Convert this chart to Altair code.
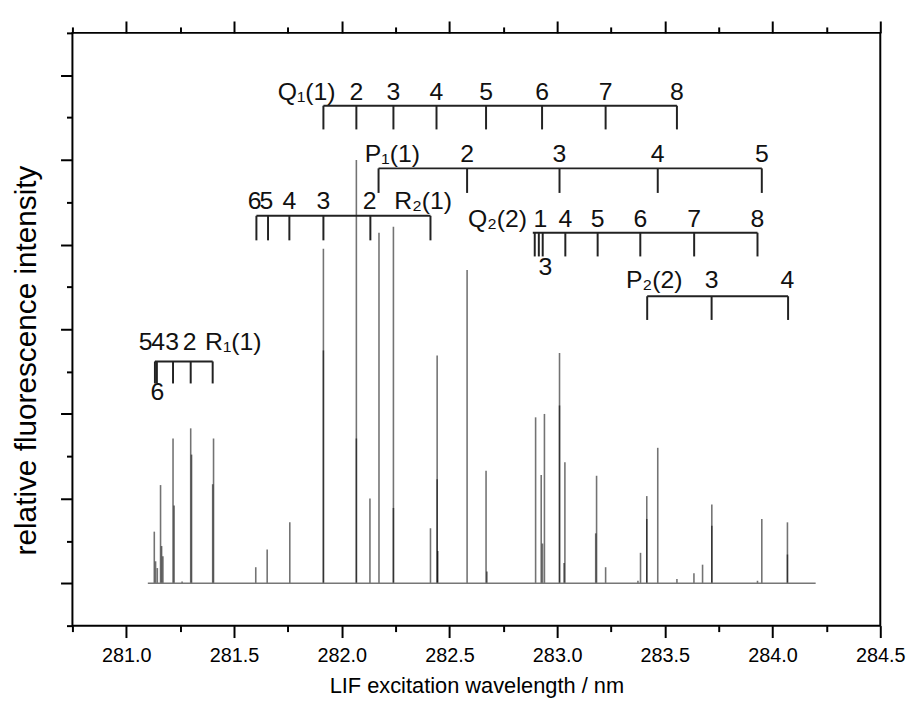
import altair as alt
import pandas as pd

# ---------------- spectrum sticks (wavelength / nm, relative intensity) -------------
stick_wl = [281.130, 281.136, 281.144, 281.159, 281.164, 281.170, 281.217, 281.222,
            281.259, 281.299, 281.303, 281.401, 281.405, 281.601, 281.654, 281.759,
            281.915, 281.915, 282.068, 282.068, 282.131, 282.173, 282.240, 282.240,
            282.412, 282.443, 282.443, 282.446, 282.582, 282.670, 282.674, 282.900,
            282.926, 282.932, 282.941, 283.011, 283.011, 283.032, 283.036, 283.179,
            283.183, 283.225, 283.375, 283.387, 283.416, 283.416, 283.467, 283.556,
            283.635, 283.675, 283.718, 283.718, 283.930, 283.950, 284.069, 284.069]
stick_h = [0.61, 0.26, 0.18, 1.16, 0.44, 0.32, 1.71, 0.92,
           0.02, 1.83, 1.52, 1.17, 1.71, 0.19, 0.40, 0.72,
           3.95, 2.75, 5.00, 1.71, 1.00, 4.14, 4.21, 0.89,
           0.65, 2.69, 1.23, 0.38, 3.70, 1.33, 0.14, 1.96,
           1.28, 0.47, 2.00, 2.72, 2.10, 0.24, 1.43, 0.59,
           1.27, 0.19, 0.03, 0.36, 1.03, 0.76, 1.60, 0.05,
           0.12, 0.22, 0.93, 0.68, 0.03, 0.76, 0.72, 0.34]
baseline_range = [281.10, 284.20]

# ---------------- rotational assignment ladders ----------------------------------
Q1_ticks = [281.915, 282.068, 282.240, 282.440, 282.670, 282.930, 283.225, 283.556]
Q1_labels = ["Q\u2081(1)", "2", "3", "4", "5", "6", "7", "8"]
Q1_label_x = [281.837, 282.068, 282.240, 282.440, 282.670, 282.930, 283.225, 283.556]

P1_ticks = [282.171, 282.582, 283.011, 283.467, 283.950]
P1_labels = ["P\u2081(1)", "2", "3", "4", "5"]
P1_label_x = [282.235, 282.582, 283.011, 283.467, 283.950]

R2_ticks = [281.604, 281.658, 281.757, 281.915, 282.133, 282.412]
R2_labels = ["6", "5", "4", "3", "2", "R\u2082(1)"]
R2_label_x = [281.596, 281.650, 281.757, 281.915, 282.130, 282.378]

Q2_ticks = [282.896, 282.915, 282.933, 283.038, 283.188, 283.386, 283.636, 283.930]
Q2_labels = ["Q\u2082(2)", "1", "4", "5", "6", "7", "8"]
Q2_label_x = [282.723, 282.922, 283.038, 283.188, 283.386, 283.636, 283.930]
Q2_below_labels = ["3"]
Q2_below_x = [282.945]

P2_ticks = [283.418, 283.717, 284.072]
P2_labels = ["P\u2082(2)", "3", "4"]
P2_label_x = [283.451, 283.717, 284.069]

R1_ticks = [281.133, 281.142, 281.217, 281.299, 281.401]
R1_labels = ["5", "4", "3", "2", "R\u2081(1)"]
R1_label_x = [281.090, 281.148, 281.213, 281.294, 281.497]
R1_below_labels = ["6"]
R1_below_x = [281.144]

# ladder vertical levels (data units): bar line, tick bottom, label baseline, lower-label baseline
levels = {
    "Q1": (5.64, 5.36, 5.71, None),
    "P1": (4.90, 4.61, 4.97, None),
    "R2": (4.34, 4.05, 4.42, None),
    "Q2": (4.14, 3.86, 4.21, 3.64),
    "P2": (3.39, 3.11, 3.49, None),
    "R1": (2.62, 2.36, 2.76, 2.16),
}
ladders = {
    "Q1": (Q1_ticks, Q1_labels, Q1_label_x, [], []),
    "P1": (P1_ticks, P1_labels, P1_label_x, [], []),
    "R2": (R2_ticks, R2_labels, R2_label_x, [], []),
    "Q2": (Q2_ticks, Q2_labels, Q2_label_x, Q2_below_labels, Q2_below_x),
    "P2": (P2_ticks, P2_labels, P2_label_x, [], []),
    "R1": (R1_ticks, R1_labels, R1_label_x, R1_below_labels, R1_below_x),
}

hl_rows, tk_rows, lb_rows = [], [], []
for name, (ticks, labs, labx, blabs, blabx) in ladders.items():
    yl, yb, ylab, ybelow = levels[name]
    start = min(ticks) - (0.009 if name == "Q2" else 0.0)
    hl_rows.append({"x": start, "x2": max(ticks), "y": yl})
    for t in ticks:
        tk_rows.append({"x": t, "y": yl, "y2": yb})
    for s, xx in zip(labs, labx):
        lb_rows.append({"x": xx, "y": ylab, "t": s})
    for s, xx in zip(blabs, blabx):
        lb_rows.append({"x": xx, "y": ybelow, "t": s})

sticks = pd.DataFrame({"x": stick_wl, "y": [0.0] * len(stick_wl), "y2": stick_h})
base = pd.DataFrame({"x": [baseline_range[0]], "x2": [baseline_range[1]], "y": [0.0]})
hl = pd.DataFrame(hl_rows)
tk = pd.DataFrame(tk_rows)
lb = pd.DataFrame(lb_rows)

FONT = "Liberation Sans"
xs = alt.Scale(domain=[280.75, 284.5], nice=False, zero=False)
ys = alt.Scale(domain=[-0.5, 6.5], nice=False, zero=False)

major_x = [281.0, 281.5, 282.0, 282.5, 283.0, 283.5, 284.0, 284.5]
minor_x = [280.75, 281.25, 281.75, 282.25, 282.75, 283.25, 283.75, 284.25]
major_y = [0, 1, 2, 3, 4, 5, 6]
minor_y = [-0.5, 0.5, 1.5, 2.5, 3.5, 4.5, 5.5, 6.5]

tick_common = dict(domain=False, grid=False, tickColor="black", tickWidth=2)

ax_bottom_major = alt.Axis(orient="bottom", values=major_x, tickSize=12, format=".1f",
                           labelFont=FONT, labelFontSize=20, labelColor="black",
                           labelPadding=8, labelFlush=False, labelOverlap=False,
                           title="LIF excitation wavelength / nm", titleFont=FONT,
                           titleFontSize=22, titleFontWeight="normal", titleColor="black",
                           titlePadding=10, **tick_common)
ax_bottom_minor = alt.Axis(orient="bottom", values=minor_x, tickSize=6, labels=False,
                           title=None, **tick_common)
ax_top_major = alt.Axis(orient="top", values=major_x, tickSize=12, labels=False,
                        title=None, **tick_common)
ax_top_minor = alt.Axis(orient="top", values=minor_x, tickSize=6, labels=False,
                        title=None, **tick_common)
ax_left_major = alt.Axis(orient="left", values=major_y, tickSize=12, labels=False,
                         title="relative fluorescence intensity", titleFont=FONT,
                         titleFontSize=30, titleFontWeight="normal", titleColor="black",
                         titlePadding=18, titleY=330, **tick_common)
ax_left_minor = alt.Axis(orient="left", values=minor_y, tickSize=6, labels=False,
                         title=None, **tick_common)

stick_layer = alt.Chart(sticks).mark_rule(color="black", opacity=0.55, strokeWidth=1.6).encode(
    x=alt.X("x:Q", scale=xs, axis=ax_bottom_major),
    y=alt.Y("y:Q", scale=ys, axis=ax_left_major),
    y2="y2:Q",
)
base_layer = alt.Chart(base).mark_rule(color="#777777", strokeWidth=1.6).encode(
    x=alt.X("x:Q", scale=xs, axis=ax_bottom_minor),
    x2="x2:Q",
    y=alt.Y("y:Q", scale=ys, axis=ax_left_minor),
)
hl_layer = alt.Chart(hl).mark_rule(color="#222222", strokeWidth=2).encode(
    x=alt.X("x:Q", scale=xs, axis=ax_top_major),
    x2="x2:Q",
    y=alt.Y("y:Q", scale=ys, axis=None),
)
tk_layer = alt.Chart(tk).mark_rule(color="#222222", strokeWidth=2).encode(
    x=alt.X("x:Q", scale=xs, axis=ax_top_minor),
    y=alt.Y("y:Q", scale=ys, axis=None),
    y2="y2:Q",
)
lb_layer = alt.Chart(lb).mark_text(font=FONT, fontSize=25, color="#111111",
                                   align="center", baseline="alphabetic").encode(
    x=alt.X("x:Q", scale=xs, axis=None),
    y=alt.Y("y:Q", scale=ys, axis=None),
    text="t:N",
)

chart = alt.layer(stick_layer, base_layer, hl_layer, tk_layer, lb_layer).resolve_axis(
    x="independent", y="independent"
).properties(
    width=815, height=598,
    autosize=alt.AutoSizeParams(type="none"),
    padding={"left": 65, "top": 22, "right": 33, "bottom": 82},
    background="white",
).configure_view(stroke="black", strokeWidth=2)

chart.save("out.html", embed_options={"renderer": "svg", "actions": False})
